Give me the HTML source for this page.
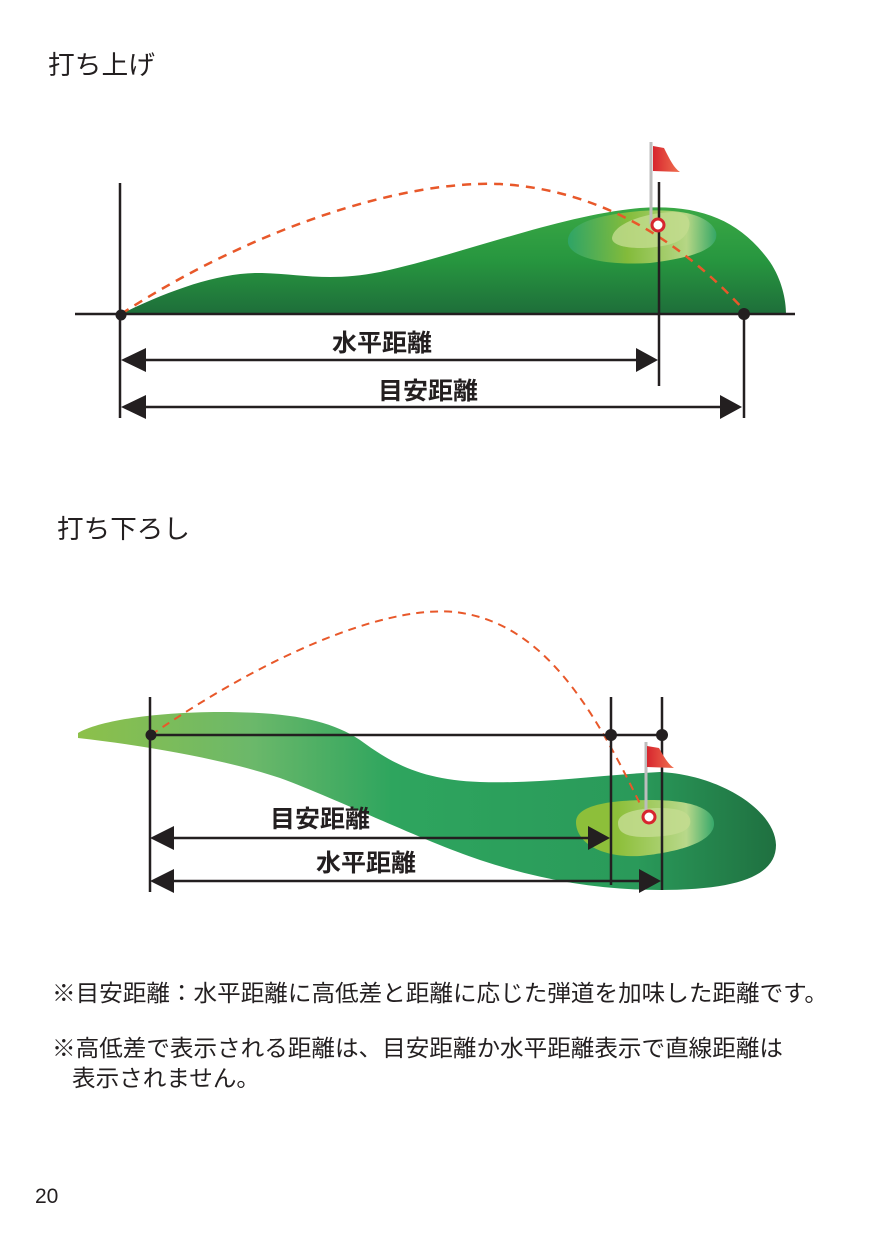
<!DOCTYPE html>
<html><head><meta charset="utf-8"><style>
body{margin:0;background:#fff}
svg{display:block}
text{font-family:"Liberation Sans","Noto Sans CJK JP",sans-serif;fill:#231f20}
</style></head><body>
<svg width="875" height="1241" viewBox="0 0 875 1241">
<defs>
<linearGradient id="g1" x1="0" y1="0" x2="0" y2="1">
<stop offset="0" stop-color="#3aa845"/><stop offset="0.5" stop-color="#27963f"/><stop offset="1" stop-color="#1e6e3a"/></linearGradient>
<linearGradient id="g2" x1="0" y1="0" x2="1" y2="0">
<stop offset="0" stop-color="#2ea56a"/><stop offset="0.4" stop-color="#8dbf3a"/><stop offset="0.8" stop-color="#c5dd8d"/><stop offset="1" stop-color="#36a86a"/></linearGradient>
<linearGradient id="g3" x1="0" y1="0" x2="1" y2="0">
<stop offset="0" stop-color="#8dc04a"/><stop offset="0.25" stop-color="#6bb86a"/><stop offset="0.45" stop-color="#2ea55e"/><stop offset="0.8" stop-color="#2a9a5a"/><stop offset="1" stop-color="#1f7040"/></linearGradient>
<linearGradient id="g4" x1="0" y1="0" x2="1" y2="0">
<stop offset="0" stop-color="#8dbf3a"/><stop offset="0.3" stop-color="#8dbf3a"/><stop offset="0.8" stop-color="#b8d88a"/><stop offset="1" stop-color="#36a86a"/></linearGradient>
<linearGradient id="fl" x1="0" y1="0" x2="1" y2="0"><stop offset="0" stop-color="#d7262e"/><stop offset="1" stop-color="#f07050"/></linearGradient>
</defs>
<text x="48" y="74" font-size="26" textLength="107" lengthAdjust="spacingAndGlyphs">打ち上げ</text>
<path d="M121,314 C170,290 220,272 262,273 C300,274 330,282 380,272 C460,255 560,215 640,208 C700,204 740,220 770,262 C782,280 786,300 786,314 Z" fill="url(#g1)"/>
<path d="M568,240 C570,222 600,215 640,211 C680,208 710,215 716,232 C720,250 690,258 650,263 C600,266 566,256 568,240 Z" fill="url(#g2)" opacity="0.9"/>
<path d="M612,238 C614,222 650,212 675,212 C695,213 692,232 680,240 C665,250 612,252 612,238 Z" fill="#c3dc8f" opacity="0.8"/>
<path d="M121,314 C250,230 400,180 500,184 C600,190 680,240 744,310" fill="none" stroke="#e8582a" stroke-width="2.5" stroke-dasharray="9,7"/>
<line x1="75" y1="314" x2="795" y2="314" stroke="#231f20" stroke-width="2.5"/>
<line x1="120" y1="183" x2="120" y2="418" stroke="#231f20" stroke-width="2.5"/>
<line x1="659" y1="182" x2="659" y2="386" stroke="#231f20" stroke-width="2.5"/>
<line x1="744" y1="314" x2="744" y2="418" stroke="#231f20" stroke-width="2.5"/>
<circle cx="121" cy="315" r="5.5" fill="#231f20"/><circle cx="744" cy="314" r="6" fill="#231f20"/>
<line x1="651" y1="142" x2="651" y2="224" stroke="#bdbdbd" stroke-width="3"/>
<path d="M653,146 L664,148 C670,160 674,168 680,172 L653,171 Z" fill="url(#fl)"/>
<circle cx="658" cy="225" r="6" fill="#fff" stroke="#d7262e" stroke-width="3"/>
<line x1="135" y1="360" x2="645" y2="360" stroke="#231f20" stroke-width="2.5"/>
<path d="M121,360 L146,348 L146,372 Z M658,360 L636,348 L636,372 Z" fill="#231f20"/>
<line x1="135" y1="407" x2="728" y2="407" stroke="#231f20" stroke-width="2.5"/>
<path d="M121,407 L146,395 L146,419 Z M742,407 L720,395 L720,419 Z" fill="#231f20"/>
<text x="332" y="351" font-size="24" font-weight="bold" textLength="100" lengthAdjust="spacingAndGlyphs">水平距離</text>
<text x="378" y="399" font-size="24" font-weight="bold" textLength="100" lengthAdjust="spacingAndGlyphs">目安距離</text>

<text x="57" y="538" font-size="26" textLength="133" lengthAdjust="spacingAndGlyphs">打ち下ろし</text>
<path d="M78,733 C100,720 160,712 220,712 C290,712 330,720 360,740 C390,762 420,780 480,782 C540,784 600,775 660,772 C720,775 775,810 776,845 C776,875 740,890 660,890 C600,890 540,880 480,860 C420,840 340,800 280,778 C220,758 140,745 78,738 Z" fill="url(#g3)"/>
<path d="M576,822 C576,805 610,800 650,800 C695,800 715,810 714,825 C712,842 680,852 640,856 C600,858 576,842 576,822 Z" fill="url(#g4)"/>
<path d="M618,823 C618,812 640,808 660,808 C685,808 692,815 690,824 C688,834 665,837 645,837 C625,837 618,832 618,823 Z" fill="#c3dc8f" opacity="0.85"/>
<path d="M151,735 C260,660 380,605 455,612 C540,622 590,700 642,808" fill="none" stroke="#e8582a" stroke-width="2" stroke-dasharray="8,6"/>
<line x1="150" y1="735" x2="662" y2="735" stroke="#231f20" stroke-width="2.5"/>
<line x1="150" y1="697" x2="150" y2="892" stroke="#231f20" stroke-width="2.5"/>
<line x1="611" y1="697" x2="611" y2="885" stroke="#231f20" stroke-width="2.5"/>
<line x1="662" y1="697" x2="662" y2="890" stroke="#231f20" stroke-width="2.5"/>
<circle cx="151" cy="735" r="5.5" fill="#231f20"/><circle cx="611" cy="735" r="6" fill="#231f20"/><circle cx="662" cy="735" r="6" fill="#231f20"/>
<line x1="646" y1="742" x2="646" y2="815" stroke="#bdbdbd" stroke-width="3"/>
<path d="M647,746 L659,748 C664,757 668,764 674,768 L647,767 Z" fill="url(#fl)"/>
<circle cx="649" cy="817" r="6" fill="#fff" stroke="#d7262e" stroke-width="3"/>
<line x1="160" y1="838" x2="600" y2="838" stroke="#231f20" stroke-width="2.5"/>
<path d="M150,838 L174,826 L174,850 Z M610,838 L588,826 L588,850 Z" fill="#231f20"/>
<line x1="160" y1="881" x2="650" y2="881" stroke="#231f20" stroke-width="2.5"/>
<path d="M150,881 L174,869 L174,893 Z M661,881 L639,869 L639,893 Z" fill="#231f20"/>
<text x="270" y="827" font-size="24" font-weight="bold" textLength="100" lengthAdjust="spacingAndGlyphs">目安距離</text>
<text x="316" y="871" font-size="24" font-weight="bold" textLength="100" lengthAdjust="spacingAndGlyphs">水平距離</text>

<text x="52" y="1001" font-size="23" textLength="776" lengthAdjust="spacingAndGlyphs">※目安距離：水平距離に高低差と距離に応じた弾道を加味した距離です。</text>
<text x="52" y="1056" font-size="23" textLength="731" lengthAdjust="spacingAndGlyphs">※高低差で表示される距離は、目安距離か水平距離表示で直線距離は</text>
<text x="72" y="1086" font-size="23" textLength="188" lengthAdjust="spacingAndGlyphs">表示されません。</text>
<text x="35" y="1203" font-size="21">20</text>
</svg>
</body></html>
